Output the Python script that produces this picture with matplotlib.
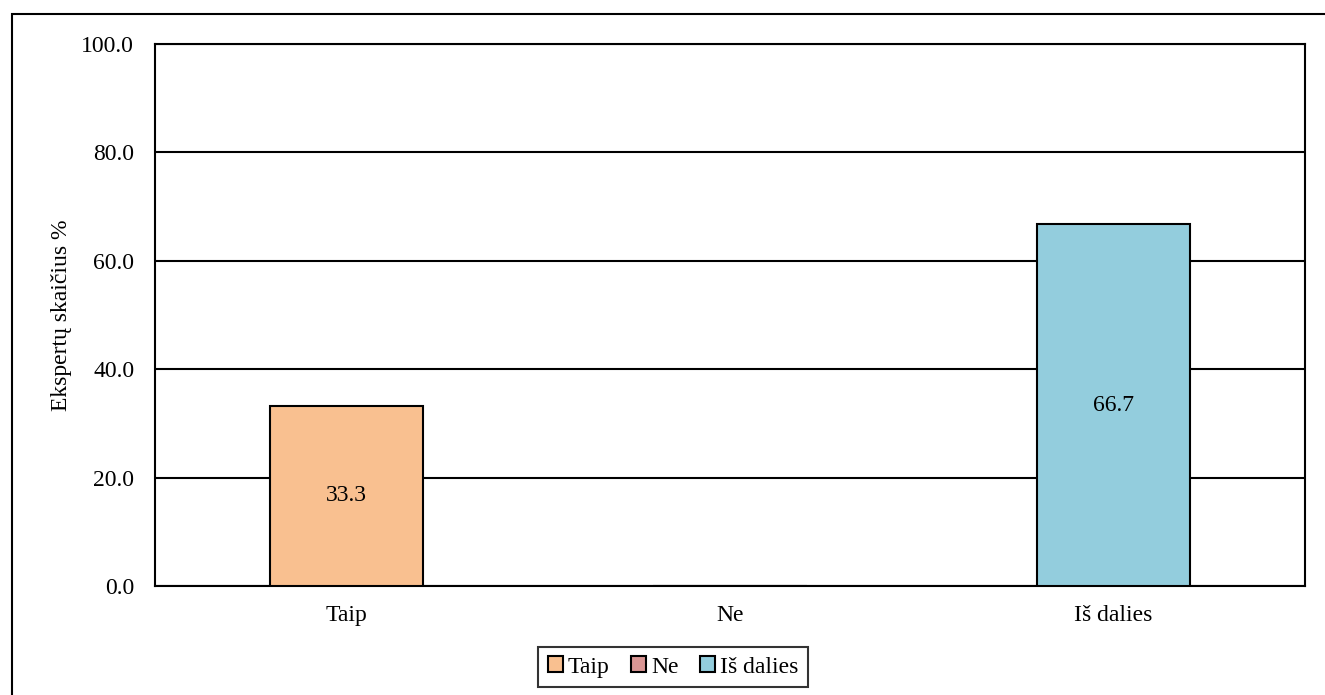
import matplotlib.pyplot as plt
from matplotlib.patches import Rectangle
import numpy as np

plt.rcParams['font.family'] = ['Liberation Serif', 'DejaVu Serif']

# Answers and share of experts (%)
categories = ['Taip', 'Ne', 'Iš dalies']
values = [33.3, 0.0, 66.7]
colors = ['#F9C090', '#DA9694', '#93CDDD']
yticks = [0, 20, 40, 60, 80, 100]

fig = plt.figure(figsize=(13.25, 6.95), dpi=100)
ax = fig.add_axes([155 / 1325, 1 - 586 / 695, 1150 / 1325, 542 / 695])

x = np.arange(len(categories))
bars = ax.bar(x, values, width=0.4, color=colors, edgecolor='black',
              linewidth=1.5, zorder=3, label=categories)
for b, v in zip(bars, values):
    if v > 0:
        ax.text(b.get_x() + b.get_width() / 2, v / 2, f'{v:.1f}',
                ha='center', va='center', fontsize=17, zorder=4)

ax.set_xlim(-0.5, len(categories) - 0.5)
ax.set_ylim(0, 100)
ax.set_yticks(yticks)
ax.set_yticklabels([f'{t:.1f}' for t in yticks])
ax.set_xticks(x)
ax.set_xticklabels(categories)
ax.tick_params(length=0, labelsize=17)
ax.tick_params(axis='y', pad=15)
ax.tick_params(axis='x', pad=14)
ax.yaxis.grid(True, color='black', linewidth=1.5, zorder=0)
for s in ax.spines.values():
    s.set_linewidth(1.5)
ax.set_ylabel('Ekspertų skaičius %', fontsize=17, labelpad=7)

leg = fig.legend(handles=list(bars), labels=categories, loc='center',
                 bbox_to_anchor=(673 / 1325, 1 - 667 / 695), ncol=3,
                 fontsize=17, frameon=True, fancybox=False,
                 edgecolor='black', handlelength=0.65, handleheight=0.65,
                 handletextpad=0.2, columnspacing=0.9, borderpad=0.4)
leg.get_frame().set_linewidth(1.5)

# outer chart border
fig.patches.append(Rectangle((12 / 1325, -0.1), 1.2, 1 - 14 / 695 + 0.1,
                             transform=fig.transFigure, fill=False,
                             edgecolor='black', linewidth=1.5))

fig.savefig('out.png', dpi=100)
